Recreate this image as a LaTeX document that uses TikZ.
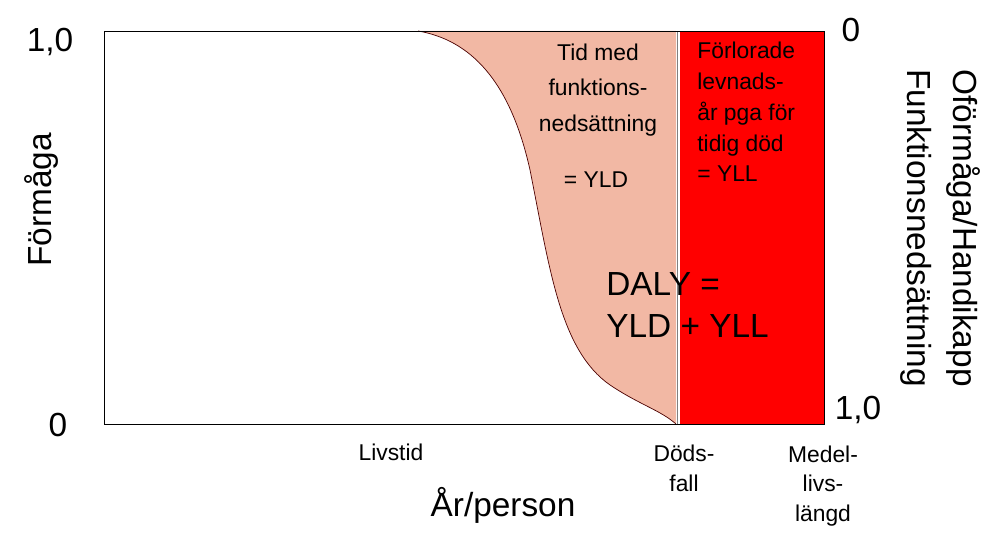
\documentclass[tikz,border=0pt]{standalone}
\usepackage{fontspec}
\setmainfont{Liberation Sans}
\begin{document}
\begin{tikzpicture}[x=0.02cm,y=-0.02cm,
 big/.style={font=\fontsize{19}{22}\selectfont,inner sep=0},
 small/.style={font=\fontsize{13}{20}\selectfont,inner sep=0,align=center}]
\useasboundingbox (0,0) rectangle (999,546);
\fill[red] (680,31) rectangle (824,424);
\fill[pink!60!orange!40!white, fill={rgb,255:red,242;green,184;blue,164}]
 (418,31) .. controls (470,40) and (510,80) .. (530,170)
 .. controls (550,270) and (560,350) .. (610,385)
 .. controls (640,405) and (660,410) .. (676,424) -- (676,31) -- cycle;
\draw[black!70!red] (418,31) .. controls (470,40) and (510,80) .. (530,170)
 .. controls (550,270) and (560,350) .. (610,385)
 .. controls (640,405) and (660,410) .. (676,424);
\draw[gray,line width=1pt] (677.5,31) -- (677.5,424);
\draw[black] (104,31) rectangle (824,424);
\node[small] (t1) at (598,90) {Tid med\\funktions-\\nedsättning};
\node[small] (t2) at (596,180) {= YLD};
\node[small,align=left,anchor=north west,font=\fontsize{13}{17.5}\selectfont] (t3) at (697,42) {Förlorade\\levnads-\\år pga för\\tidig död\\= YLL};
\node[big,align=left,anchor=north west,font=\fontsize{19}{24}\selectfont] (d) at (606,272) {DALY =\\YLD + YLL};
\node[big] (l1) at (50,42) {1,0};
\node[big] (l0) at (58,425) {0};
\node[big,rotate=90] (lf) at (42,200) {Förmåga};
\node[big] (r0) at (851,30) {0};
\node[big] (r1) at (858,410) {1,0};
\node[big,rotate=-90] (ra) at (963,228) {Oförmåga/Handikapp};
\node[big,rotate=-90] (rb) at (916,228) {Funktionsnedsättning};
\node[small] (b1) at (391,452) {Livstid};
\node[small,font=\fontsize{13}{17}\selectfont] (b2) at (684,468) {Döds-\\fall};
\node[small,font=\fontsize{13}{17}\selectfont] (b3) at (823,486) {Medel-\\livs-\\längd};
\node[big] (b4) at (503,505) {År/person};
\end{tikzpicture}
\end{document}
